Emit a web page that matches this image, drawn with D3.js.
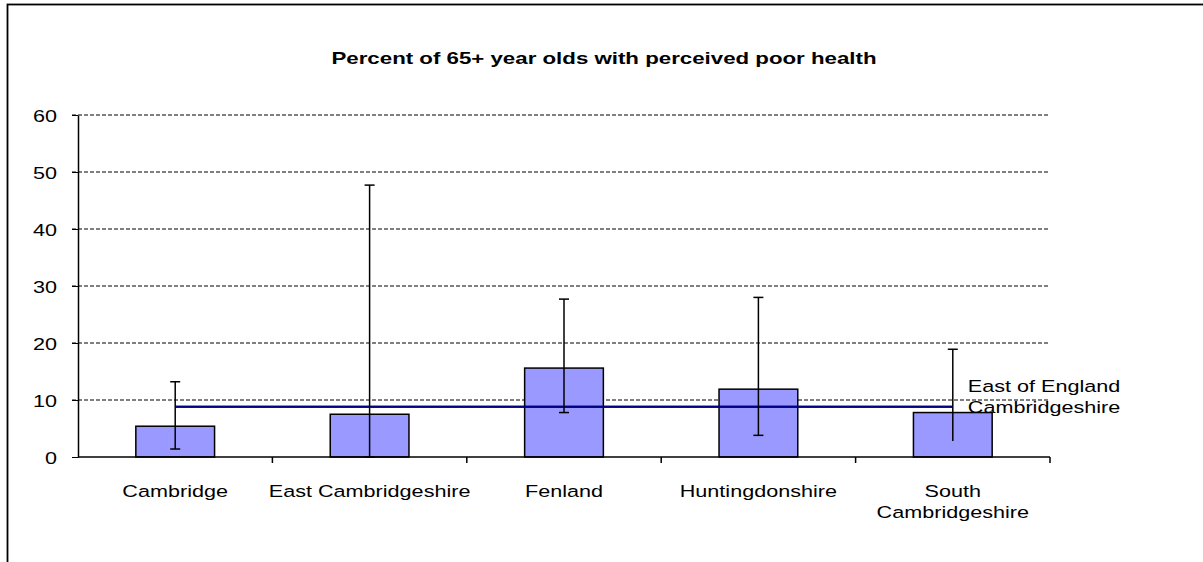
<!DOCTYPE html>
<html><head><meta charset="utf-8">
<script src="https://cdn.jsdelivr.net/npm/d3@7"></script>
<style>body{margin:0;background:#fff;}svg{display:block;font-family:Arial,"Liberation Sans",sans-serif;}</style>
</head><body>
<svg id="c" width="1203" height="562"></svg>
<script>
const categories = [["Cambridge"], ["East Cambridgeshire"], ["Fenland"], ["Huntingdonshire"], ["South", "Cambridgeshire"]];
const values = [5.4, 7.5, 15.6, 11.9, 7.8];
const lower = [1.4, 0, 7.8, 3.8, 2.8];
const upper = [13.2, 47.7, 27.7, 28.0, 18.9];
const eastOfEngland = [8.8, 8.8, 8.8, 8.8, 8.8];
const cambridgeshire = [8.8, 8.8, 8.8, 8.8, 8.8];
const yTicks = [0, 10, 20, 30, 40, 50, 60];
const title = "Percent of 65+ year olds with perceived poor health";

const svg = d3.select("#c");
const L = 78, R = 1050, T = 115, B = 457;
const SX = 1.31; // horizontal stretch of the original's text rendering
const idx = categories.map((d, i) => i);
const x = d3.scaleBand().domain(idx).range([L, R]).paddingInner(0).paddingOuter(0);
const y = d3.scaleLinear().domain([0, 60]).range([B, T]);
const cx = i => x(i) + x.bandwidth() / 2;
const bw = x.bandwidth() * 0.405;

// outer border (extends past the window)
svg.append("rect").attr("x", 7.5).attr("y", 4.5).attr("width", 1300).attr("height", 700)
  .attr("fill", "none").attr("stroke", "#000").attr("stroke-width", 1.8);

svg.append("text").attr("transform", `translate(604,64) scale(1.35,1)`).attr("text-anchor", "middle")
  .attr("font-size", 16.5).attr("font-weight", "bold").text(title);

// gridlines
svg.append("g").selectAll("line").data(yTicks.filter(d => d > 0)).join("line")
  .attr("x1", L - 6).attr("x2", R).attr("y1", d => y(d)).attr("y2", d => y(d))
  .attr("stroke", "#000").attr("stroke-width", 1).attr("stroke-dasharray", "4,2");

// y axis
const ya = svg.append("g").attr("transform", `translate(${L},0)`)
  .call(d3.axisLeft(y).tickValues(yTicks).tickSize(6).tickPadding(0).tickSizeOuter(0));
ya.select(".domain").attr("stroke", "#000").attr("stroke-width", 1.5);
ya.selectAll(".tick line").attr("stroke", "#000").attr("stroke-width", 1);
ya.selectAll(".tick text").attr("x", null).attr("dy", null)
  .attr("transform", `translate(-21,6) scale(${SX},1)`)
  .attr("font-size", 16.5).attr("fill", "#000").attr("font-family", "Arial, 'Liberation Sans', sans-serif");

// bars
svg.append("g").selectAll("rect").data(values).join("rect")
  .attr("x", (d, i) => cx(i) - bw / 2).attr("width", bw)
  .attr("y", d => y(d)).attr("height", d => B - y(d))
  .attr("fill", "#9999FF").attr("stroke", "#000").attr("stroke-width", 1.5);

// x axis
const xa = svg.append("g").attr("transform", `translate(0,${B})`);
xa.append("line").attr("x1", L).attr("x2", R).attr("stroke", "#000").attr("stroke-width", 1.5);
xa.selectAll("line.t").data(d3.range(1, categories.length + 1)).join("line").attr("class", "t")
  .attr("x1", i => L + i * x.bandwidth()).attr("x2", i => L + i * x.bandwidth())
  .attr("y1", 0).attr("y2", 6).attr("stroke", "#000").attr("stroke-width", 1.5);
xa.selectAll("text").data(categories).join("text")
  .attr("text-anchor", "middle").attr("font-size", 16.5)
  .attr("transform", (d, i) => `translate(${cx(i)},40) scale(${SX},1)`)
  .each(function(d) {
    d3.select(this).selectAll("tspan").data(d).join("tspan")
      .attr("x", 0).attr("dy", (t, j) => j === 0 ? 0 : 21).text(t => t);
  });

// reference lines
const line = d3.line().x((d, i) => cx(i)).y(d => y(d));
svg.append("path").datum(cambridgeshire).attr("d", line).attr("fill", "none").attr("stroke", "#000080").attr("stroke-width", 2);
svg.append("path").datum(eastOfEngland).attr("d", line).attr("fill", "none").attr("stroke", "#000080").attr("stroke-width", 2);

// error bars
const eb = svg.append("g").selectAll("g").data(values).join("g");
eb.append("line").attr("x1", (d, i) => cx(i)).attr("x2", (d, i) => cx(i))
  .attr("y1", (d, i) => y(upper[i])).attr("y2", (d, i) => y(lower[i])).attr("stroke", "#000").attr("stroke-width", 1.5);
eb.append("line").attr("x1", (d, i) => cx(i) - 5).attr("x2", (d, i) => cx(i) + 5)
  .attr("y1", (d, i) => y(upper[i])).attr("y2", (d, i) => y(upper[i])).attr("stroke", "#000").attr("stroke-width", 1.5);
eb.filter((d, i) => lower[i] > 0).append("line").attr("x1", (d, i) => cx(i) - 5).attr("x2", (d, i) => cx(i) + 5)
  .attr("y1", (d, i) => y(lower[i])).attr("y2", (d, i) => y(lower[i])).attr("stroke", "#000").attr("stroke-width", 1.5);

// line labels
const last = categories.length - 1;
svg.append("text").attr("transform", `translate(${cx(last) + 15},${y(eastOfEngland[last]) - 15}) scale(${SX},1)`)
  .attr("font-size", 16.5).text("East of England");
svg.append("text").attr("transform", `translate(${cx(last) + 15},${y(cambridgeshire[last]) + 6}) scale(${SX},1)`)
  .attr("font-size", 16.5).text("Cambridgeshire");
</script>
</body></html>
